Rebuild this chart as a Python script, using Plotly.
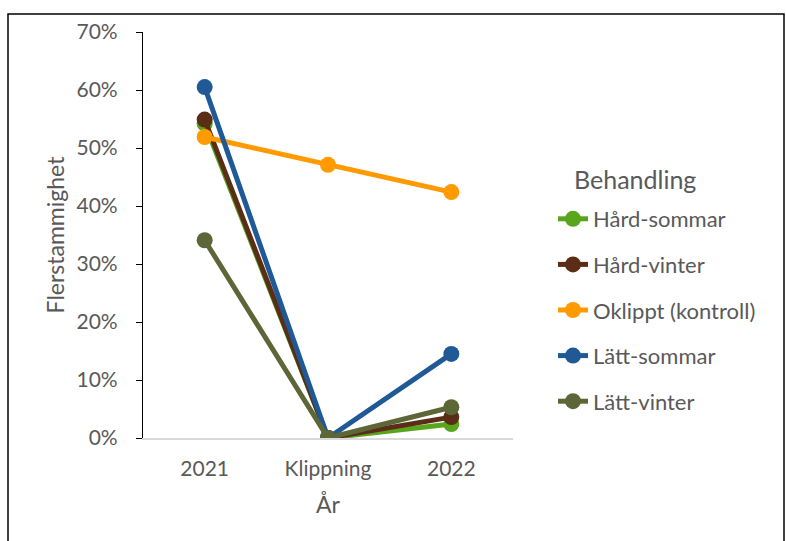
import plotly.graph_objects as go

# Kategorier på x-axeln
kategorier = ["2021", "Klippning", "2022"]

# Andel flerstammiga plantor per behandling
hard_sommar = [0.542, 0.0, 0.024]
hard_vinter = [0.549, 0.0, 0.036]
oklippt = [0.519, 0.471, 0.424]
latt_sommar = [0.605, 0.0, 0.145]
latt_vinter = [0.341, 0.0, 0.053]

serier = [
    ("Hård-sommar", hard_sommar, "#58A51E"),
    ("Hård-vinter", hard_vinter, "#5B2D17"),
    ("Oklippt (kontroll)", oklippt, "#FF9A00"),
    ("Lätt-sommar", latt_sommar, "#1F5A96"),
    ("Lätt-vinter", latt_vinter, "#5C6636"),
]

font_fam = "Lato, 'Open Sans', sans-serif"
text_col = "#595959"

fig = go.Figure()
for i, (namn, varden, farg) in enumerate(serier):
    fig.add_trace(go.Scatter(
        x=kategorier, y=varden, name=namn, mode="lines+markers",
        line=dict(color=farg, width=5),
        marker=dict(color=farg, size=16),
        legendgroup=f"g{i}",
    ))

W, H = 786, 541
L, R, T, B = 143, 273, 32, 103
pw, ph = W - L - R, H - T - B

fig.update_layout(
    width=W, height=H,
    margin=dict(l=L, r=R, t=T, b=B),
    plot_bgcolor="white", paper_bgcolor="white",
    font=dict(family=font_fam, color=text_col, size=21),
    xaxis=dict(
        title=dict(text="År", font=dict(size=23, color=text_col), standoff=18),
        range=[-0.5, 2.5],
        showline=True, linecolor="#D9D9D9", linewidth=1.5,
        showgrid=False, ticks="", tickfont=dict(size=21),
        ticklabelstandoff=11,
    ),
    yaxis=dict(
        title=dict(text="Flerstammighet", font=dict(size=23, color=text_col), standoff=5),
        range=[0, 0.7], dtick=0.1, tickformat=".0%",
        showline=True, linecolor="#000000", linewidth=1.2,
        ticks="outside", ticklen=6, tickcolor="#000000", tickwidth=1.2,
        showgrid=False, zeroline=False, tickfont=dict(size=21),
        ticklabelstandoff=14,
    ),
    legend=dict(
        x=(553 - L) / pw, xanchor="left",
        y=(H - B - 198) / ph, yanchor="top",
        font=dict(size=22, color=text_col),
        tracegroupgap=14,
        bgcolor="rgba(0,0,0,0)",
    ),
    showlegend=True,
)

# Rubrik för förklaringen
fig.add_annotation(
    text="Behandling", xref="paper", yref="paper",
    x=(572 - L) / pw, xanchor="left",
    y=(H - B - 179) / ph, yanchor="middle",
    showarrow=False, font=dict(size=25, color=text_col),
)

# Ram runt diagrammet
fig.add_shape(
    type="rect", xref="paper", yref="paper",
    x0=(8 - L) / pw, x1=(784 - L) / pw,
    y0=(H - B - 600) / ph, y1=(H - B - 14) / ph,
    line=dict(color="black", width=1.5), fillcolor="rgba(0,0,0,0)",
    layer="below",
)

fig.write_html("out.html")
